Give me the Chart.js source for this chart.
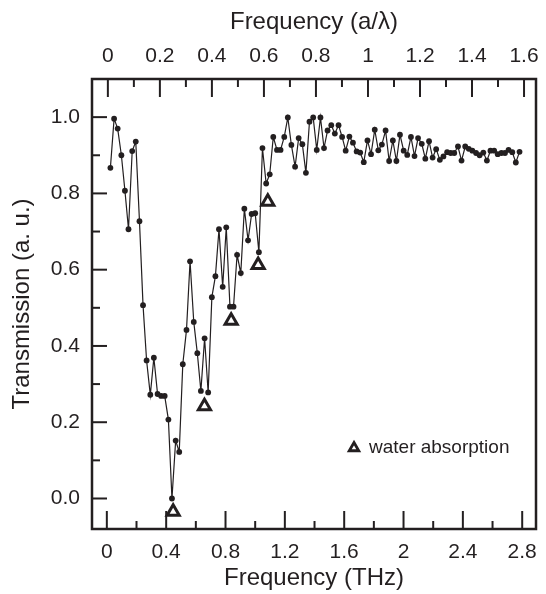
<!DOCTYPE html>
<html>
<head>
<meta charset="utf-8">
<title>Transmission spectrum</title>
<script src="https://cdn.jsdelivr.net/npm/chart.js@4/dist/chart.umd.min.js"></script>
<style>
  html, body { margin: 0; padding: 0; background: #fff; }
  #wrap { width: 546px; height: 594px; }
</style>
</head>
<body>
<div id="wrap"><canvas id="chart" width="546" height="594"></canvas></div>
<script>
// ---------------------------
// Data
// ---------------------------
const freq = [
  0.024, 0.049, 0.073, 0.098, 0.122, 0.146, 0.171, 0.195, 0.220, 0.244,
  0.268, 0.293, 0.317, 0.342, 0.366, 0.390, 0.415, 0.439, 0.464, 0.488,
  0.512, 0.537, 0.561, 0.586, 0.610, 0.634, 0.659, 0.683, 0.708, 0.732,
  0.756, 0.781, 0.805, 0.830, 0.854, 0.878, 0.903, 0.927, 0.952, 0.976,
  1.000, 1.025, 1.049, 1.074, 1.098, 1.122, 1.147, 1.171, 1.196, 1.220,
  1.244, 1.269, 1.293, 1.318, 1.342, 1.366, 1.391, 1.415, 1.440, 1.464,
  1.488, 1.513, 1.537, 1.562, 1.586, 1.610, 1.635, 1.659, 1.684, 1.708,
  1.732, 1.757, 1.781, 1.806, 1.830, 1.854, 1.879, 1.903, 1.928, 1.952,
  1.976, 2.001, 2.025, 2.050, 2.074, 2.098, 2.123, 2.147, 2.172, 2.196,
  2.220, 2.245, 2.269, 2.294, 2.318, 2.342, 2.367, 2.391, 2.416, 2.440,
  2.464, 2.489, 2.513, 2.538, 2.562, 2.586, 2.611, 2.635, 2.660, 2.684,
  2.708, 2.733, 2.757, 2.782
];

const transmission = [
  0.867, 0.996, 0.970, 0.900, 0.807, 0.706, 0.911, 0.936, 0.727, 0.507,
  0.362, 0.272, 0.369, 0.274, 0.269, 0.269, 0.207, 0.000, 0.152, 0.122,
  0.352, 0.442, 0.622, 0.463, 0.381, 0.282, 0.420, 0.278, 0.528, 0.583,
  0.706, 0.555, 0.711, 0.503, 0.503, 0.639, 0.591, 0.760, 0.677, 0.746,
  0.748, 0.646, 0.919, 0.826, 0.850, 0.948, 0.914, 0.914, 0.948, 0.999,
  0.927, 0.870, 0.945, 0.929, 0.854, 0.988, 0.999, 0.914, 0.999, 0.919,
  0.965, 0.979, 0.957, 0.979, 0.948, 0.912, 0.949, 0.933, 0.910, 0.907,
  0.882, 0.939, 0.903, 0.967, 0.913, 0.928, 0.965, 0.885, 0.939, 0.885,
  0.954, 0.912, 0.901, 0.948, 0.898, 0.945, 0.930, 0.891, 0.937, 0.894,
  0.916, 0.888, 0.897, 0.908, 0.906, 0.906, 0.923, 0.886, 0.923, 0.917,
  0.912, 0.906, 0.900, 0.907, 0.886, 0.912, 0.912, 0.903, 0.906, 0.906,
  0.914, 0.908, 0.881, 0.909
];

// water absorption lines (triangles)
const waterFreq = [0.447, 0.658, 0.838, 1.020, 1.085];
const waterLevel = [-0.035, 0.242, 0.466, 0.612, 0.778];

// tick labels
const xTicks = [0, 0.4, 0.8, 1.2, 1.6, 2, 2.4, 2.8];
const topTicks = [0, 0.2, 0.4, 0.6, 0.8, 1, 1.2, 1.4, 1.6];
const yTicks = [0, 0.2, 0.4, 0.6, 0.8, 1.0];

const INK = "#231f20";
const FONT = "'Liberation Sans', Arial, Helvetica, sans-serif";

// midpoints between major ticks -> minor ticks
function minors(arr) {
  return arr.slice(1).map((v, i) => (v + arr[i]) / 2);
}

// ---------------------------
// Frame, inward ticks, legend
// ---------------------------
const frameAndTicks = {
  id: "frameAndTicks",
  afterDatasetsDraw(chart) {
    const { ctx, chartArea: a, scales } = chart;
    ctx.save();
    ctx.strokeStyle = INK;
    ctx.lineCap = "butt";

    ctx.lineWidth = 2;
    const line = (x1, y1, x2, y2) => {
      ctx.beginPath();
      ctx.moveTo(x1, y1);
      ctx.lineTo(x2, y2);
      ctx.stroke();
    };

    // bottom axis
    xTicks.forEach(v => { const p = scales.x.getPixelForValue(v); line(p, a.bottom, p, a.bottom - 18); });
    minors(xTicks).forEach(v => { const p = scales.x.getPixelForValue(v); line(p, a.bottom, p, a.bottom - 8); });

    // top axis
    topTicks.forEach(v => { const p = scales.x2.getPixelForValue(v); line(p, a.top, p, a.top + 18); });
    minors(topTicks).forEach(v => { const p = scales.x2.getPixelForValue(v); line(p, a.top, p, a.top + 8); });

    // left axis
    yTicks.forEach(v => { const p = scales.y.getPixelForValue(v); line(a.left, p, a.left + 15, p); });
    minors(yTicks).forEach(v => { const p = scales.y.getPixelForValue(v); line(a.left, p, a.left + 8, p); });

    // frame
    ctx.lineWidth = 2.5;
    ctx.strokeRect(a.left, a.top, a.right - a.left, a.bottom - a.top);

    // legend
    const lx = a.right - 182, ly = a.bottom - 81;
    const r = 5.5;
    ctx.lineWidth = 2.8;
    ctx.lineJoin = "miter";
    ctx.fillStyle = "#fff";
    ctx.beginPath();
    ctx.moveTo(lx, ly - r);
    ctx.lineTo(lx + r * 0.866, ly + r * 0.5);
    ctx.lineTo(lx - r * 0.866, ly + r * 0.5);
    ctx.closePath();
    ctx.fill();
    ctx.stroke();

    ctx.fillStyle = INK;
    ctx.font = "19px " + FONT;
    ctx.textAlign = "left";
    ctx.textBaseline = "middle";
    ctx.fillText("water absorption", lx + 15, ly);
    ctx.restore();
  }
};

// drop label overhang padding so the plot box keeps its width
function fixHeight(h) {
  return s => {
    s.height = h;
    s.paddingLeft = 0;
    s.paddingRight = 0;
  };
}

// ---------------------------
// Chart
// ---------------------------
const ctx = document.getElementById("chart").getContext("2d");

new Chart(ctx, {
  type: "scatter",
  data: {
    datasets: [
      {
        label: "water absorption",
        data: waterFreq.map((f, i) => ({ x: f, y: waterLevel[i] })),
        showLine: false,
        pointStyle: "triangle",
        pointRadius: 7,
        pointBorderWidth: 3,
        pointBackgroundColor: "#fff",
        pointBorderColor: INK
      },
      {
        label: "Transmission",
        data: freq.map((f, i) => ({ x: f, y: transmission[i] })),
        showLine: true,
        borderColor: INK,
        borderWidth: 1.2,
        pointRadius: 2.9,
        pointBorderWidth: 0,
        pointBackgroundColor: INK,
        tension: 0
      }
    ]
  },
  options: {
    responsive: false,
    animation: false,
    devicePixelRatio: 1,
    layout: { padding: { left: 0, right: 4, top: 0, bottom: 0 } },
    plugins: {
      legend: { display: false },
      tooltip: { enabled: false }
    },
    scales: {
      x: {
        type: "linear",
        position: "bottom",
        min: -0.1,
        max: 2.893,
        grid: { display: false, drawTicks: false },
        border: { display: false },
        afterBuildTicks: s => { s.ticks = xTicks.map(v => ({ value: v })); },
        afterFit: fixHeight(65),
        ticks: {
          color: INK,
          font: { family: FONT, size: 21 },
          padding: 11,
          maxRotation: 0,
          callback: v => String(+v.toFixed(1))
        },
        title: {
          display: true,
          text: "Frequency (THz)",
          color: INK,
          font: { family: FONT, size: 24 },
          padding: { top: 0, bottom: 1 }
        }
      },
      x2: {
        type: "linear",
        axis: "x",
        position: "top",
        min: -0.061,
        max: 1.646,
        grid: { display: false, drawTicks: false },
        border: { display: false },
        afterBuildTicks: s => { s.ticks = topTicks.map(v => ({ value: v })); },
        afterFit: fixHeight(79),
        ticks: {
          color: INK,
          font: { family: FONT, size: 21 },
          padding: 10,
          maxRotation: 0,
          callback: v => String(+v.toFixed(1))
        },
        title: {
          display: true,
          text: "Frequency (a/\u03bb)",
          color: INK,
          font: { family: FONT, size: 24 },
          padding: { top: 8, bottom: 0 }
        }
      },
      y: {
        type: "linear",
        min: -0.08,
        max: 1.10,
        grid: { display: false, drawTicks: false },
        border: { display: false },
        afterBuildTicks: s => { s.ticks = yTicks.map(v => ({ value: v })); },
        afterFit: s => { s.width = 92; },
        ticks: {
          color: INK,
          font: { family: FONT, size: 21 },
          padding: 12,
          callback: v => v.toFixed(1)
        },
        title: {
          display: true,
          text: "Transmission (a. u.)",
          color: INK,
          font: { family: FONT, size: 24 },
          padding: { top: 8, bottom: 0 }
        }
      }
    }
  },
  plugins: [frameAndTicks]
});
</script>
</body>
</html>
